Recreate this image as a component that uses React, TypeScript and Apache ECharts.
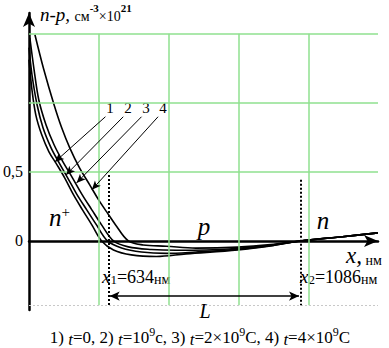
import React, { useEffect, useRef } from 'react';
import * as echarts from 'echarts';

// x in nm, y in units of 10^21 cm^-3
const curve1: [number, number][] = [[447,1.312],[454,1.094],[463,0.913],[477,0.768],[494,0.645],[513,0.551],[531,0.457],[552,0.333],[573,0.225],[595,0.116],[618,0],[646,-0.065],[688,-0.101],[747,-0.113],[817,-0.094],[939,-0.065],[1016,-0.036],[1086,0],[1180,0.029],[1269,0.058]];
const curve2: [number, number][] = [[447,1.399],[454,1.203],[466,0.986],[480,0.819],[499,0.674],[518,0.565],[538,0.457],[559,0.341],[583,0.225],[606,0.116],[632,0],[665,-0.051],[712,-0.080],[770,-0.090],[840,-0.080],[939,-0.060],[1016,-0.034],[1086,0],[1180,0.029],[1269,0.058]];
const curve3: [number, number][] = [[449,1.471],[459,1.239],[470,1.022],[487,0.841],[506,0.696],[527,0.572],[548,0.464],[571,0.341],[595,0.225],[618,0.116],[646,0],[681,-0.043],[735,-0.062],[794,-0.068],[864,-0.066],[939,-0.053],[1016,-0.031],[1086,0],[1180,0.029],[1269,0.058]];
const curve4: [number, number][] = [[461,1.493],[482,1.239],[506,0.986],[524,0.819],[543,0.674],[566,0.529],[590,0.406],[611,0.297],[630,0.210],[651,0.116],[681,0],[716,-0.029],[770,-0.038],[840,-0.052],[939,-0.045],[1016,-0.027],[1086,0],[1180,0.029],[1269,0.058]];

const xMin = 447;
const xMax = 1269;
const yMin = -0.5;
const yMax = 1.65;
const gridXs = [612, 777, 942, 1107];
const gridYs = [0.5, 1.0, 1.5];
const gridBottom = -0.465;
const x1 = 634;
const x2 = 1086;
const x1Top = 0.478;
const x2Top = 0.442;
const lY = -0.399;
// arrows from labels 1..4 to curves: [startX, startY, endX, endY]
const pointerArrows: [number, number, number, number][] = [
  [627, 0.899, 508, 0.572],
  [669, 0.899, 534, 0.478],
  [712, 0.899, 559, 0.420],
  [751, 0.899, 595, 0.370],
];
const curveLabels = ['1', '2', '3', '4'];

const SERIF = "'Liberation Serif', 'DejaVu Serif', serif";

export default function App() {
  const ref = useRef<HTMLDivElement>(null);
  useEffect(() => {
    if (!ref.current) return;
    const chart = echarts.init(ref.current, null, { renderer: 'svg' });
    const curveSeries = [curve1, curve2, curve3, curve4].map((d, i) => ({
      type: 'line',
      name: curveLabels[i],
      data: d,
      smooth: 0.35,
      showSymbol: false,
      silent: true,
      z: 4,
      lineStyle: { color: '#000', width: 1.6 },
    }));
    const option: any = {
      animation: false,
      grid: { left: 27, right: 11, top: 13, bottom: 38 },
      xAxis: {
        type: 'value', min: xMin, max: xMax,
        axisLine: { onZero: true, lineStyle: { color: '#000', width: 2.5 }, symbol: ['none', 'arrow'], symbolSize: [9, 14] },
        axisTick: { show: false }, axisLabel: { show: false }, splitLine: { show: false }, z: 3,
      },
      yAxis: {
        type: 'value', min: yMin, max: yMax, interval: 0.5,
        axisLine: { show: true, onZero: false, lineStyle: { color: '#000', width: 2.5 }, symbol: ['none', 'arrow'], symbolSize: [9, 14] },
        axisTick: { show: false },
        axisLabel: {
          formatter: (v: number) => (Math.abs(v) < 1e-9 ? '0' : Math.abs(v - 0.5) < 1e-9 ? '0,5' : ''),
          fontSize: 16, fontFamily: SERIF, color: '#000', margin: 6,
        },
        splitLine: { show: false }, z: 3,
      },
      series: [
        {
          type: 'line', data: [], silent: true, z: 1,
          markLine: {
            silent: true, symbol: ['none', 'none'], label: { show: false },
            lineStyle: { color: '#8fe08f', width: 1.5, type: 'solid' },
            emphasis: { disabled: true },
            data: [
              ...gridXs.map((x) => [{ coord: [x, gridBottom] }, { coord: [x, 1.5] }]),
              ...gridYs.map((y) => [{ coord: [xMin, y] }, { coord: [xMax, y] }]),
            ],
          },
        },
        {
          type: 'line', data: [], silent: true, z: 1,
          markLine: {
            silent: true, symbol: ['none', 'none'], label: { show: false },
            lineStyle: { color: '#c8c8c8', width: 1, type: [2, 2] },
            emphasis: { disabled: true },
            data: [[{ coord: [xMin, gridBottom] }, { coord: [xMax, gridBottom] }]],
          },
        },
        {
          type: 'line', data: [], silent: true, z: 2,
          markLine: {
            silent: true, symbol: ['none', 'none'], label: { show: false },
            lineStyle: { color: '#000', width: 2, type: [2, 2] },
            emphasis: { disabled: true },
            data: [
              [{ coord: [x1, x1Top] }, { coord: [x1, gridBottom] }],
              [{ coord: [x2, x2Top] }, { coord: [x2, gridBottom] }],
            ],
          },
        },
        {
          type: 'line', data: [], silent: true, z: 5,
          markLine: {
            silent: true, symbol: ['none', 'arrow'], symbolSize: [6, 9], label: { show: false },
            lineStyle: { color: '#000', width: 1, type: 'solid' },
            emphasis: { disabled: true },
            data: pointerArrows.map(([sx, sy, ex, ey]) => [{ coord: [sx, sy] }, { coord: [ex, ey] }]),
          },
        },
        {
          type: 'line', data: [], silent: true, z: 5,
          markLine: {
            silent: true, symbol: ['arrow', 'arrow'], symbolSize: [7, 10], label: { show: false },
            lineStyle: { color: '#000', width: 1.5, type: 'solid' },
            emphasis: { disabled: true },
            data: [[{ coord: [x1 + 3, lY] }, { coord: [x2 - 3, lY] }]],
          },
        },
        ...curveSeries,
      ],
      graphic: [
        {
          type: 'text', x: 40, y: 2, silent: true,
          style: {
            text: '{i|n-p,} {s|см}{sup|-3}{s|×10}{sup|21}',
            fill: '#000', font: `18px ${SERIF}`,
            rich: {
              i: { fontStyle: 'italic', fontSize: 19, fontFamily: SERIF, fill: '#000', verticalAlign: 'bottom', lineHeight: 22 },
              s: { fontSize: 14, fontFamily: SERIF, fill: '#000', verticalAlign: 'bottom', lineHeight: 22, padding: [0, 0, 1, 0] },
              sup: { fontSize: 11, fontFamily: SERIF, fill: '#000', verticalAlign: 'top', lineHeight: 22, fontWeight: 'bold' },
            },
          },
        },
        ...curveLabels.map((t, i) => ({
          type: 'text', x: [110, 128, 146, 163][i], y: 108, silent: true,
          style: { text: t, fill: '#000', font: `15px ${SERIF}`, align: 'center', verticalAlign: 'middle', textAlign: 'center', textVerticalAlign: 'middle' },
        })),
        {
          type: 'text', x: 49, y: 204, silent: true,
          style: {
            text: '{i|n}{sup|+}', fill: '#000', font: `24px ${SERIF}`,
            rich: {
              i: { fontStyle: 'italic', fontSize: 25, fontFamily: SERIF, fill: '#000', verticalAlign: 'bottom', lineHeight: 26 },
              sup: { fontSize: 15, fontFamily: SERIF, fill: '#000', verticalAlign: 'top', lineHeight: 26 },
            },
          },
        },
        {
          type: 'text', x: 204, y: 226, silent: true,
          style: { text: 'p', fill: '#000', font: `italic 25px ${SERIF}`, align: 'center', verticalAlign: 'middle', textAlign: 'center', textVerticalAlign: 'middle' },
        },
        {
          type: 'text', x: 323, y: 220, silent: true,
          style: { text: 'n', fill: '#000', font: `italic 25px ${SERIF}`, align: 'center', verticalAlign: 'middle', textAlign: 'center', textVerticalAlign: 'middle' },
        },
        {
          type: 'text', x: 346, y: 247, silent: true,
          style: {
            text: '{i|x,}{s| нм}', fill: '#000', font: `22px ${SERIF}`,
            rich: {
              i: { fontStyle: 'italic', fontSize: 23, fontFamily: SERIF, fill: '#000', verticalAlign: 'bottom', lineHeight: 20 },
              s: { fontSize: 14, fontFamily: SERIF, fill: '#000', verticalAlign: 'bottom', lineHeight: 20 },
            },
          },
        },
        {
          type: 'text', x: 102, y: 268, silent: true,
          style: {
            text: '{i|x}{sub|1}{n|=634}{s|нм}', fill: '#000', font: `17px ${SERIF}`,
            rich: {
              i: { fontStyle: 'italic', fontSize: 19, fontFamily: SERIF, fill: '#000', verticalAlign: 'bottom', lineHeight: 18 },
              sub: { fontSize: 13, fontFamily: SERIF, fill: '#000', verticalAlign: 'bottom', lineHeight: 18 },
              n: { fontSize: 18, fontFamily: SERIF, fill: '#000', verticalAlign: 'bottom', lineHeight: 18 },
              s: { fontSize: 14, fontFamily: SERIF, fill: '#000', verticalAlign: 'bottom', lineHeight: 18 },
            },
          },
        },
        {
          type: 'text', x: 300, y: 268, silent: true,
          style: {
            text: '{i|x}{sub|2}{n|=1086}{s|нм}', fill: '#000', font: `17px ${SERIF}`,
            rich: {
              i: { fontStyle: 'italic', fontSize: 19, fontFamily: SERIF, fill: '#000', verticalAlign: 'bottom', lineHeight: 18 },
              sub: { fontSize: 13, fontFamily: SERIF, fill: '#000', verticalAlign: 'bottom', lineHeight: 18 },
              n: { fontSize: 18, fontFamily: SERIF, fill: '#000', verticalAlign: 'bottom', lineHeight: 18 },
              s: { fontSize: 14, fontFamily: SERIF, fill: '#000', verticalAlign: 'bottom', lineHeight: 18 },
            },
          },
        },
        {
          type: 'text', x: 205, y: 311, silent: true,
          style: { text: 'L', fill: '#000', font: `italic 20px ${SERIF}`, align: 'center', verticalAlign: 'middle', textAlign: 'center', textVerticalAlign: 'middle' },
        },
        {
          type: 'text', x: 200, y: 326, silent: true,
          style: {
            text: '1) {i|t}=0, 2) {i|t}=10{sup|9}с, 3) {i|t}=2×10{sup|9}С, 4) {i|t}=4×10{sup|9}С',
            fill: '#000', font: `17px ${SERIF}`, align: 'center', textAlign: 'center',
            rich: {
              i: { fontStyle: 'italic', fontSize: 17, fontFamily: SERIF, fill: '#000', verticalAlign: 'bottom', lineHeight: 22 },
              sup: { fontSize: 12, fontFamily: SERIF, fill: '#000', verticalAlign: 'top', lineHeight: 22 },
            },
          },
        },
      ],
    };
    chart.setOption(option);
    return () => chart.dispose();
  }, []);
  return <div ref={ref} style={{ width: 389, height: 348, position: 'absolute', left: 0, top: 0 }} />;
}
